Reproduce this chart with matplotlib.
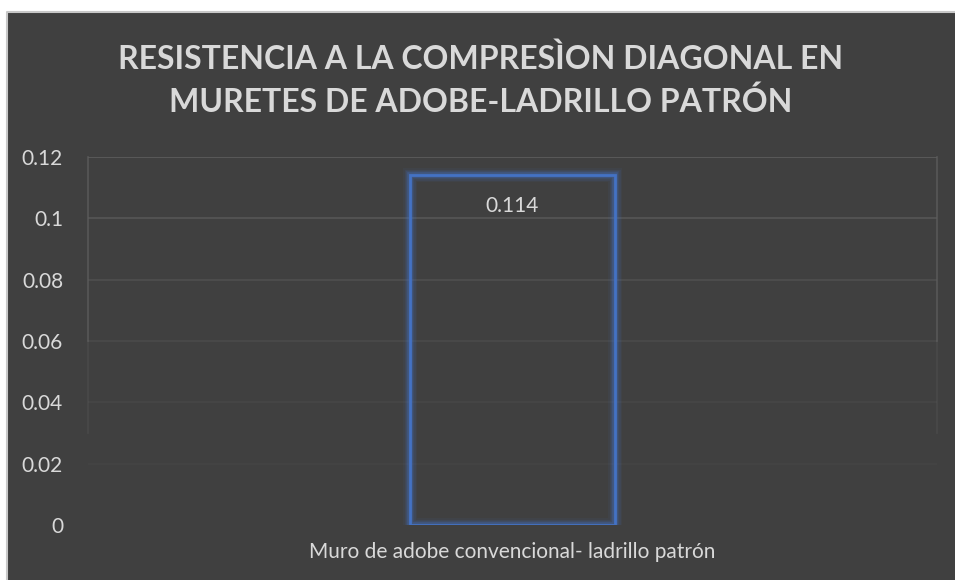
import matplotlib
matplotlib.use("Agg")
import matplotlib.pyplot as plt
from matplotlib.patches import Rectangle
from matplotlib.lines import Line2D
import numpy as np

categories = ["Muro de adobe convencional- ladrillo patrón"]
values = [0.114]
value_labels = ["0.114"]
yticks = [0, 0.02, 0.04, 0.06, 0.08, 0.1, 0.12]
ytick_labels = ["0", "0.02", "0.04", "0.06", "0.08", "0.1", "0.12"]
title = "RESISTENCIA A LA COMPRESÌON DIAGONAL EN\nMURETES DE ADOBE-LADRILLO PATRÓN"

BG = "#404040"
TXT = "#d9d9d9"
BLUE = "#4472C4"
FONT = "Lato"

W, H = 955, 580
fig = plt.figure(figsize=(W/100, H/100), dpi=100)
fig.patch.set_facecolor("white")
# dark chart area with light border on top/left
fig.patches.append(Rectangle((7/W, 0), 1 - 7/W, 1 - 12/H, transform=fig.transFigure,
                             facecolor=BG, edgecolor="none", zorder=-10))
fig.lines.append(Line2D([7/W, 7/W, 1], [0, 1 - 12/H, 1 - 12/H], transform=fig.transFigure,
                        color="#c8c8c8", lw=1.5, zorder=-9))

ax = fig.add_axes([88/W, 55/H, (937-88)/W, (525-157)/H])
ax.set_facecolor("none")
for s in ax.spines.values():
    s.set_visible(False)

x = np.arange(len(categories))
ax.set_xlim(-0.5, 0.5)
ax.set_ylim(0, 0.12)

# gridlines fading toward bottom
for yv in yticks[1:]:
    a = 0.1 + 0.9 * (yv / 0.12) ** 2
    ax.axhline(yv, color="#5e5e5e", lw=1.2, alpha=a, zorder=1)
# faded side lines
for xs in (-0.5, 0.5):
    ax.plot([xs, xs], [0.06, 0.12], color="#5e5e5e", lw=1.2, alpha=0.8, zorder=1, clip_on=False)
    ax.plot([xs, xs], [0.03, 0.06], color="#5e5e5e", lw=1.2, alpha=0.3, zorder=1, clip_on=False)

bw = 205/849
# glow
for lw, al in [(10, 0.07), (8, 0.1), (6, 0.15), (4, 0.3)]:
    ax.bar(x, values, width=bw, facecolor="none", edgecolor=BLUE, linewidth=lw, alpha=al, zorder=2)
ax.bar(x, values, width=bw, facecolor="none", edgecolor=BLUE, linewidth=2, zorder=3)

for xi, v, lab in zip(x, values, value_labels):
    ax.annotate(lab, (xi, v), xytext=(0, -29), textcoords="offset points", ha="center",
                va="bottom", color=TXT, fontsize=15, family=FONT)

ax.set_yticks(yticks)
ax.set_yticklabels(ytick_labels, color=TXT, fontsize=15, family=FONT)
ax.set_xticks(x)
ax.set_xticklabels(categories, color=TXT, fontsize=15, family=FONT)
ax.tick_params(axis="both", length=0)
ax.tick_params(axis="y", pad=18)
ax.tick_params(axis="x", pad=12)

fig.text(481/W, 1 - 80/H, title, ha="center", va="center", color=TXT, fontsize=23,
         fontweight="bold", family=FONT, linespacing=1.5)

fig.savefig("out.png", dpi=100, facecolor=fig.get_facecolor())
